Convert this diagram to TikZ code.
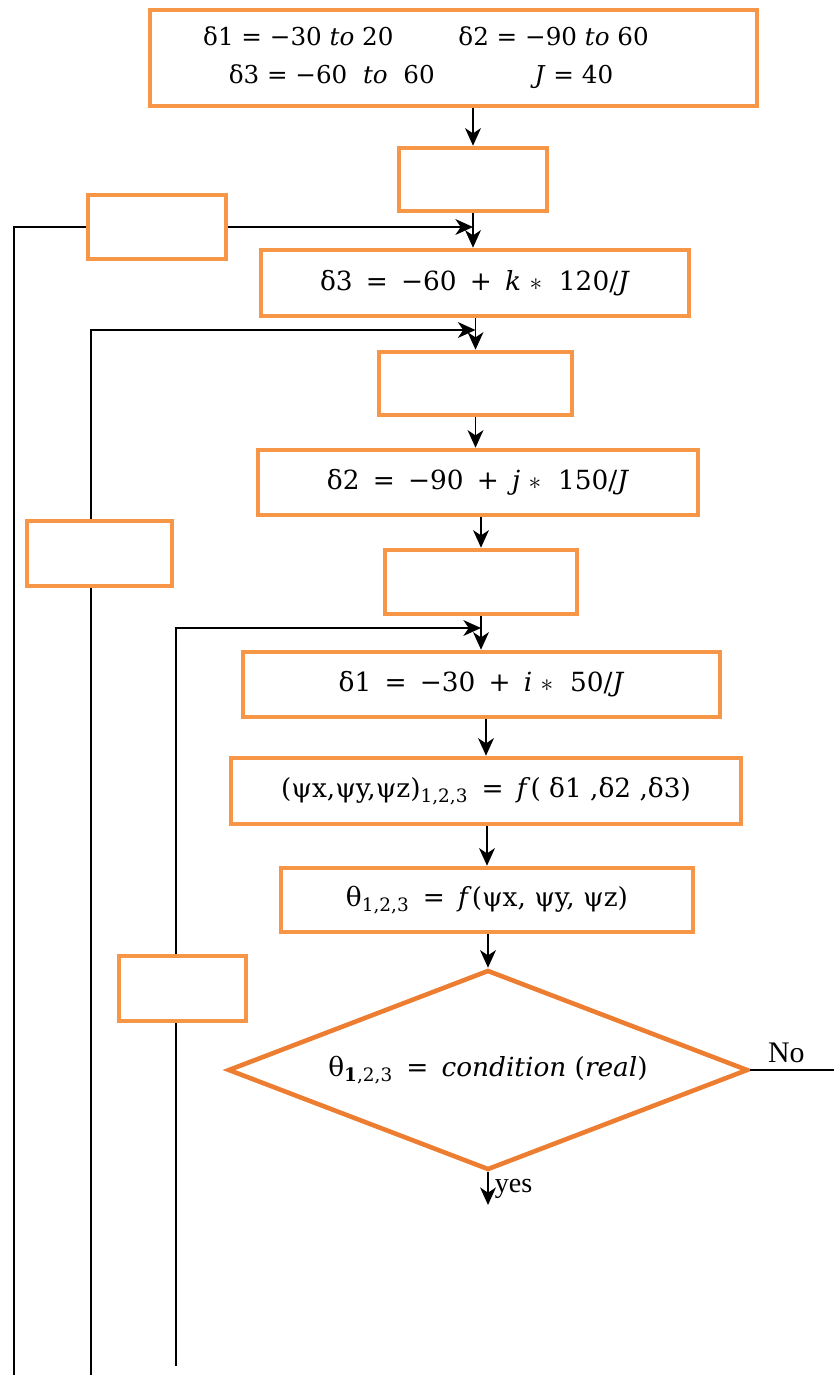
\documentclass[tikz,border=0pt]{standalone}
\usepackage{fontspec}
\setmainfont{Liberation Serif}
\newfontfamily\formfont{DejaVu Serif}
\usetikzlibrary{shapes.geometric,arrows.meta}
\definecolor{boxorange}{HTML}{F79646}
\definecolor{diaorange}{HTML}{ED7D31}
\newcommand\opgap{\hspace{0.5em}}

\begin{document}
\begin{tikzpicture}[
  blk/.style={draw=boxorange,line width=2.6pt,fill=white,inner sep=0pt,font=\formfont\fontsize{15}{21.5}\selectfont},
  dec/.style={diamond,draw=diaorange,line width=2.6pt,inner sep=0pt,shape aspect=2.6,minimum width=10.4cm,minimum height=4cm,font=\formfont\fontsize{15}{18}\selectfont},
  flow/.style={line width=1.1pt,-{Stealth[length=10pt,width=9pt,inset=3pt]}},
  back/.style={line width=1.1pt}]
\useasboundingbox (0,0) rectangle (16.68,-27.5);

% main column
\node[blk,minimum width=12.14cm,minimum height=1.92cm,align=center,font=\formfont\fontsize{14}{21.5}\selectfont] (init) at (9.07,-1.16)
  {δ1 = −30 \textit{to} 20\hspace{1.3cm}δ2 = −90 \textit{to} 60\hspace*{1.1cm}\\
   δ3 = −60 \ \textit{to} \ 60\hspace{2cm}\textit{J} = 40\hspace*{1.3cm}};
\node[blk,minimum width=2.96cm,minimum height=1.26cm] (kloop) at (9.46,-3.59) {};
\node[blk,minimum width=8.56cm,minimum height=1.32cm] (eqk) at (9.5,-5.66)
  {δ3\opgap=\opgap−60\opgap+\opgap\textit{k} $\ast$ \ 120/\textit{J}};
\node[blk,minimum width=3.86cm,minimum height=1.26cm] (jloop) at (9.51,-7.67) {};
\node[blk,minimum width=8.8cm,minimum height=1.3cm] (eqj) at (9.56,-9.65)
  {δ2\opgap=\opgap−90\opgap+\opgap\textit{j} $\ast$ \ 150/\textit{J}};
\node[blk,minimum width=3.84cm,minimum height=1.28cm] (iloop) at (9.62,-11.64) {};
\node[blk,minimum width=9.54cm,minimum height=1.3cm] (eqi) at (9.63,-13.69)
  {δ1\opgap=\opgap−30\opgap+\opgap\textit{i} $\ast$ \ 50/\textit{J}};
\node[blk,minimum width=10.2cm,minimum height=1.32cm] (psi) at (9.72,-15.82)
  {(ψx,ψy,ψz)\textsubscript{1,2,3}\opgap=\opgap\textit{f}( δ1 ,δ2 ,δ3)};
\node[blk,minimum width=8.24cm,minimum height=1.28cm] (theta) at (9.74,-18.0)
  {θ\textsubscript{1,2,3}\opgap=\opgap\textit{f}(ψx, ψy, ψz)};
\node[dec] (cond) at (9.76,-21.4)
  {θ\textsubscript{\textbf{1},2,3}\opgap=\opgap\textit{condition} (\textit{real})};

% loop boxes on the left
\node[blk,minimum width=2.76cm,minimum height=1.28cm] (kret) at (3.14,-4.54) {};
\node[blk,minimum width=2.9cm,minimum height=1.3cm] (jret) at (1.99,-11.07) {};
\node[blk,minimum width=2.54cm,minimum height=1.3cm] (iret) at (3.65,-19.77) {};

\coordinate (kbot) at (0.28,-27.5);
\coordinate (jbot) at (1.82,-27.5);
\coordinate (ibot) at (3.52,-27.32);
\coordinate (jin) at (9.51,-6.6);
\coordinate (iin) at (9.62,-12.56);
\coordinate (yesend) at (9.76,-24.1);
\coordinate (noend) at (16.68,-21.4);

% forward arrows
\draw[flow] (kloop.north |- init.south) -- (kloop.north);
\draw[flow] (kloop.south) -- (kloop.south |- eqk.north);
\draw[flow] (jloop.north |- eqk.south) -- (jloop.north);
\draw[flow] (jloop.south) -- (jloop.south |- eqj.north);
\draw[flow] (iloop.north |- eqj.south) -- (iloop.north);
\draw[flow] (iloop.south) -- (iloop.south |- eqi.north);
\draw[flow] (psi.north |- eqi.south) -- (psi.north);
\draw[flow] (theta.north |- psi.south) -- (theta.north);
\draw[flow] (cond.north |- theta.south) -- (cond.north);
\draw[flow] (cond.south) -- node[right,font=\fontsize{16}{18}\selectfont]{yes} (yesend);
\draw[back] (cond.east) -- node[above,pos=0.43,font=\fontsize{17}{19}\selectfont]{No} (noend);

% return lines
\draw[back] (kbot) |- (kret.west);
\draw[flow] (kret.east) -- (kret.east -| kloop.south);
\draw[back] (jbot) -- (jbot |- jret.south);
\draw[flow] (jbot |- jret.north) |- (jin);
\draw[back] (ibot) -- (ibot |- iret.south);
\draw[flow] (ibot |- iret.north) |- (iin);
\end{tikzpicture}
\end{document}
